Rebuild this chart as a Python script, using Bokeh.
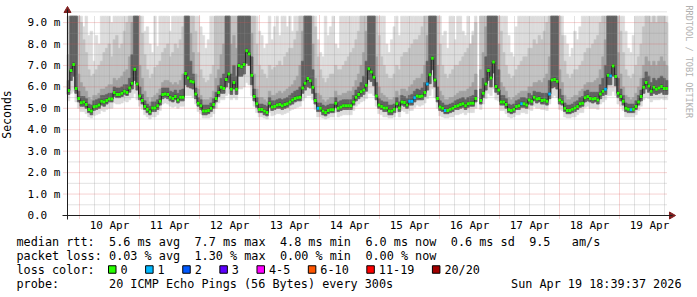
import numpy as np
from bokeh.plotting import figure
from bokeh.models import Range1d, FixedTicker, ColumnDataSource
from bokeh.embed import file_html
from bokeh.resources import INLINE
from bokeh.core.properties import value

nan = float("nan")

# ---------------- data (hourly smokeping samples, milliseconds) ----------------
sample_start_h = -4.4          # hours relative to 10 Apr 00:00
sample_step_h = 1.018

median_ms = [
 5.83,6.76,7.04,5.92,5.46,5.26,5.29,5.18,4.95,4.87, 5.07,5.10,5.15,5.33,5.29,5.37,5.44,5.44,5.74,5.64,
 5.64,5.70,5.80,5.74,5.95,6.17,6.82,6.14,5.58,5.37, 5.09,4.96,4.84,5.01,5.02,5.12,5.33,5.64,5.67,5.64,
 5.52,5.46,5.55,5.39,5.52,5.52,6.63,6.41,6.26,6.23, 5.67,5.24,5.12,4.87,4.87,4.90,5.00,5.18,
 5.46,5.74,5.98,5.92,6.35,6.60,5.89,6.20,5.89,7.00, 6.94,7.04,7.69,7.53,6.54,5.55,5.21,4.95,4.95,4.87,
 4.81,5.24,5.06,5.09,5.15,5.18,5.12,5.18,5.21,5.30, 5.39,5.46,5.49,5.52,5.95,6.17,6.39,6.29,5.98,5.37,
 5.00,5.00,4.87,4.81,4.90,4.93,4.93,5.24,5.00,5.06, 5.12,5.12,5.12,5.12,5.30,5.52,5.64,5.77,5.86,6.08, 6.85,
 6.69,6.45,5.58,5.15,5.09,5.02,5.02,4.87,4.87,4.96, 5.21,5.02,5.30,5.27,5.15,5.33,5.33,5.49,5.58,5.55,
 5.58,5.74,6.14,6.57,7.34,6.32,5.46,5.06,5.00,4.90, 4.90,4.96,5.00,5.09,5.12,5.18,5.21,5.12,5.21,5.24,
 5.24,5.46,nan,5.37,5.70,6.14,6.76,6.41,7.16,6.02, 5.86,5.30,5.30,5.18,4.93,4.90,4.96,5.09,5.12,5.21,
 5.21,5.15,5.39,5.33,5.52,5.43,5.46,5.37,5.39,5.33, 5.67,6.32,6.35,6.26,5.39,5.30,5.00,4.90,4.90,4.96,
 5.02,5.09,5.21,5.24,5.49,5.55,5.46,5.43,5.46,5.39, 5.67,5.80,5.89,6.54,6.51,6.97,6.48,5.70,5.55,5.33,
 5.00,4.96,4.93,4.96,5.09,5.30,5.55,5.98,6.20,6.04, 5.80,5.98,5.89,5.95,6.02,5.92,5.92,
]

ping_min = [
 5.35,5.7,5.8,5.3,5.0,4.85,4.85,4.75,4.6,4.55, 4.65,4.7,4.75,4.9,4.85,4.95,5.0,5.0,5.25,5.2,
 5.2,5.25,5.35,5.3,5.4,5.5,5.7,5.4,5.1,4.95, 4.7,4.6,4.5,4.6,4.6,4.7,4.9,5.2,5.25,5.2,
 5.1,5.05,5.1,5.0,5.1,5.1,5.6,5.6,5.6,5.5, 5.2,4.85,4.75,4.55,4.55,4.55,4.6,4.75,
 5.0,5.25,5.4,5.4,5.6,5.7,5.4,5.5,5.4,5.9, 5.9,6.0,6.2,6.1,5.6,5.1,4.8,4.6,4.6,4.55,
 4.5,4.8,4.65,4.7,4.75,4.75,4.7,4.75,4.8,4.9, 4.95,5.0,5.05,5.1,5.35,5.5,5.6,5.6,5.4,4.95,
 4.6,4.6,4.55,4.5,4.55,4.6,4.6,4.8,4.6,4.65, 4.7,4.7,4.7,4.7,4.9,5.1,5.2,5.3,5.35,5.45, 5.7,
 5.7,5.6,5.1,4.75,4.7,4.6,4.6,4.55,4.55,4.6, 4.8,4.6,4.9,4.85,4.75,4.9,4.9,5.05,5.15,5.1,
 5.15,5.25,5.45,5.6,5.9,5.5,5.0,4.65,4.6,4.55, 4.55,4.6,4.6,4.7,4.7,4.75,4.8,4.7,4.8,4.8,
 4.8,5.0,nan,4.95,5.2,5.45,5.7,5.6,5.9,5.4, 5.35,4.9,4.9,4.75,4.6,4.55,4.6,4.7,4.7,4.8,
 4.8,4.75,4.95,4.9,5.1,5.0,5.0,4.95,4.95,4.9, 5.2,5.5,5.6,5.5,4.95,4.9,4.6,4.55,4.55,4.6,
 4.6,4.7,4.8,4.8,5.05,5.1,5.0,5.0,5.0,4.95, 5.2,5.3,5.4,5.6,5.6,5.8,5.6,5.2,5.1,4.9,
 4.6,4.6,4.6,4.6,4.7,4.9,5.1,5.4,5.5,5.45, 5.3,5.4,5.4,5.4,5.45,5.4,5.4,
]

ping_low = [
 5.65,6.3,6.5,5.7,5.3,5.1,5.1,5.0,4.8,4.7, 4.9,4.95,5.0,5.15,5.1,5.2,5.3,5.3,5.55,5.5,
 5.5,5.55,5.65,5.6,5.75,5.9,6.3,5.85,5.4,5.2, 4.95,4.8,4.7,4.85,4.85,4.95,5.15,5.45,5.5,5.45,
 5.35,5.3,5.4,5.25,5.35,5.35,6.1,6.0,5.95,5.9, 5.45,5.1,4.95,4.7,4.7,4.75,4.85,5.0,
 5.3,5.55,5.7,5.7,6.0,6.2,5.65,5.9,5.65,6.5, 6.5,6.6,7.1,7.0,6.1,5.35,5.05,4.8,4.8,4.7,
 4.65,5.05,4.9,4.95,5.0,5.0,4.95,5.0,5.05,5.15, 5.2,5.3,5.35,5.35,5.7,5.85,6.0,5.95,5.7,5.2,
 4.85,4.85,4.7,4.65,4.75,4.8,4.8,5.05,4.85,4.9, 4.95,4.95,4.95,4.95,5.15,5.35,5.45,5.55,5.65,5.8, 6.35,
 6.25,6.05,5.4,5.0,4.95,4.85,4.85,4.7,4.7,4.8, 5.05,4.85,5.15,5.1,5.0,5.15,5.15,5.3,5.4,5.4,
 5.4,5.55,5.85,6.15,6.8,6.0,5.3,4.9,4.85,4.75, 4.75,4.8,4.85,4.95,4.95,5.0,5.05,4.95,5.05,5.1,
 5.1,5.3,nan,5.2,5.5,5.85,6.3,6.0,6.65,5.75, 5.65,5.15,5.15,5.0,4.8,4.75,4.8,4.95,4.95,5.05,
 5.05,5.0,5.2,5.15,5.35,5.25,5.3,5.2,5.2,5.15, 5.45,5.95,6.0,5.9,5.2,5.15,4.85,4.75,4.75,4.8,
 4.85,4.95,5.05,5.1,5.3,5.35,5.3,5.25,5.3,5.2, 5.45,5.6,5.65,6.1,6.1,6.5,6.05,5.5,5.35,5.15,
 4.85,4.8,4.8,4.8,4.95,5.15,5.35,5.7,5.9,5.75, 5.6,5.7,5.65,5.7,5.75,5.65,5.65,
]

ping_mid = [
 6.3,9.3,9.3,9.3,5.8,5.55,5.55,5.45,5.2,5.15, 5.35,5.4,5.45,5.6,5.6,5.65,5.7,5.7,6.0,5.95,
 5.95,6.0,6.1,6.1,6.4,7.5,9.3,9.3,6.0,5.65, 5.35,5.2,5.1,5.3,5.3,5.4,5.6,5.95,5.95,5.95,
 5.8,5.75,5.85,5.7,5.85,5.9,9.3,9.3,7.2,6.6, 5.95,5.5,5.4,5.15,5.15,5.15,5.25,5.45,
 5.75,6.05,6.4,6.6,9.3,9.3,6.6,7.0,6.5,9.3, 9.3,9.3,9.3,9.3,7.4,5.9,5.5,5.2,5.2,5.15,
 5.1,5.5,5.35,5.35,5.4,5.45,5.4,5.45,5.5,5.6, 5.7,5.8,5.85,6.0,7.2,9.3,9.3,9.3,6.8,5.7,
 5.25,5.25,5.15,5.1,5.15,5.2,5.2,5.5,5.3,5.35, 5.4,5.4,5.4,5.4,5.6,5.85,6.0,6.2,6.5,7.2, 9.3,
 9.3,9.3,6.2,5.45,5.35,5.3,5.3,5.15,5.15,5.2, 5.5,5.3,5.6,5.55,5.45,5.6,5.65,5.8,5.9,5.85,
 5.95,6.2,7.2,9.3,9.3,9.3,6.0,5.35,5.25,5.15, 5.15,5.2,5.25,5.35,5.4,5.45,5.5,5.4,5.5,5.55,
 5.6,5.85,nan,5.9,6.4,7.4,9.3,9.3,9.3,9.3, 6.8,5.6,5.6,5.45,5.2,5.15,5.2,5.35,5.4,5.5,
 5.5,5.45,5.7,5.6,5.8,5.75,5.75,5.7,5.7,5.7, 6.3,9.3,9.3,9.3,5.9,5.6,5.25,5.15,5.15,5.2,
 5.3,5.35,5.5,5.55,5.8,5.85,5.75,5.75,5.75,5.75, 6.1,6.4,7.0,9.3,9.3,9.3,9.3,6.4,5.9,5.6,
 5.25,5.2,5.2,5.2,5.35,5.6,5.85,6.4,6.7,6.5, 6.2,6.4,6.3,6.4,6.5,6.4,6.3,
]

ping_up = [
 7.5,9.3,9.3,9.3,6.6,6.2,6.0,5.8,5.5,5.4, 5.6,5.6,5.7,5.9,5.9,6.0,6.1,6.1,6.4,6.3,
 6.4,6.5,6.7,6.8,7.4,9.0,9.3,9.3,7.0,6.4, 5.8,5.5,5.3,5.5,5.6,5.7,5.9,6.2,6.3,6.3,
 6.2,6.1,6.2,6.1,6.3,6.6,9.3,9.3,8.5,7.6, 6.6,5.9,5.6,5.4,5.4,5.4,5.5,5.8,
 6.4,6.8,7.5,8.0,9.3,9.3,8.0,8.4,7.8,9.3, 9.3,9.3,9.3,9.3,8.5,6.6,5.9,5.5,5.5,5.4,
 5.3,5.8,5.6,5.6,5.7,5.8,5.7,5.8,5.9,6.0, 6.1,6.3,6.5,7.0,8.6,9.3,9.3,9.3,8.0,6.4,
 5.7,5.6,5.4,5.3,5.4,5.5,5.5,5.8,5.6,5.6, 5.7,5.7,5.8,5.8,6.0,6.3,6.6,7.0,7.6,8.6, 9.3,
 9.3,9.3,7.4,6.0,5.7,5.6,5.5,5.4,5.4,5.5, 5.8,5.6,5.9,5.9,5.8,6.0,6.1,6.3,6.4,6.4,
 6.6,7.0,8.4,9.3,9.3,9.3,7.0,5.8,5.6,5.4, 5.4,5.5,5.5,5.6,5.7,5.8,5.8,5.8,5.9,6.0,
 6.2,6.6,nan,6.8,7.6,8.8,9.3,9.3,9.3,9.3, 8.0,6.2,6.0,5.8,5.5,5.4,5.5,5.6,5.7,5.8,
 5.8,5.8,6.0,6.0,6.2,6.2,6.3,6.2,6.4,6.6, 7.4,9.3,9.3,9.3,6.8,6.2,5.6,5.4,5.4,5.5,
 5.6,5.6,5.8,5.9,6.1,6.2,6.2,6.2,6.3,6.4, 6.8,7.4,8.2,9.3,9.3,9.3,9.3,7.6,6.6,6.0,
 5.6,5.5,5.4,5.5,5.7,6.0,6.4,7.0,7.4,7.2, 7.0,7.2,7.0,7.2,7.4,7.2,7.0,
]

ping_high = [
 9.3,9.3,9.3,9.3,9.3,9.0,8.2,7.6,6.8,6.5, 6.6,6.8,7.0,7.2,7.6,7.8,8.0,7.4,8.2,8.4,
 7.8,8.0,8.6,9.0,9.3,9.3,9.3,9.3,9.3,8.5, 7.5,6.8,6.4,6.6,6.9,7.0,7.2,7.6,7.8,8.0,
 7.4,7.6,8.0,7.8,8.2,8.8,9.3,9.3,9.3,9.3, 8.6,7.6,6.8,6.4,6.2,6.3,6.6,7.0,
 9.3,9.3,9.3,9.3,9.3,9.3,9.3,9.3,9.3,9.3, 9.3,9.3,9.3,9.3,9.3,9.3,8.0,7.0,6.8,6.6,
 6.4,7.0,6.8,6.9,7.0,7.2,7.0,7.4,7.6,7.8, 7.8,8.2,8.6,9.3,9.3,9.3,9.3,9.3,9.3,8.8,
 7.4,6.8,6.4,6.2,6.4,6.6,6.6,7.0,6.8,6.8, 7.0,7.2,7.4,7.6,7.8,8.2,8.6,9.3,9.3,9.3, 9.3,
 9.3,9.3,9.3,8.4,7.4,7.0,6.6,6.4,6.4,6.6, 7.0,6.8,7.4,7.6,7.6,7.8,8.0,8.2,8.2,8.4,
 8.8,9.3,9.3,9.3,9.3,9.3,9.3,8.0,7.0,6.6, 6.4,6.6,6.8,7.0,7.0,7.2,7.4,7.6,7.8,8.0,
 8.4,9.0,nan,9.3,9.3,9.3,9.3,9.3,9.3,9.3, 9.3,8.6,7.6,7.0,6.6,6.4,6.5,6.8,7.0,7.2,
 7.4,7.4,7.8,7.8,8.2,8.0,8.4,8.2,8.6,9.0, 9.3,9.3,9.3,9.3,9.3,8.4,7.2,6.6,6.4,6.6,
 6.8,6.8,7.0,7.2,7.6,7.8,7.8,8.0,8.2,8.4, 9.0,9.3,9.3,9.3,9.3,9.3,9.3,9.3,8.6,7.6,
 6.8,6.5,6.4,6.6,7.0,7.4,8.0,8.8,9.3,9.3, 9.0,9.3,9.0,9.3,9.3,9.3,9.0,
]

ping_max = [
 9.3,9.3,9.3,9.3,9.3,9.3,8.8,9.3,8.4,8.6, 7.2,8.4,8.0,9.3,9.3,9.3,9.3,9.0,9.3,9.3,
 9.3,9.3,9.3,9.3,9.3,9.3,9.3,9.3,9.3,9.3, 8.6,8.8,8.0,7.6,9.3,7.9,9.3,9.3,9.3,9.3,
 8.6,9.3,9.3,9.3,9.3,9.3,9.3,9.3,9.3,9.3, 9.3,9.3,8.8,8.4,7.8,8.2,9.3,9.3,
 9.3,9.3,9.3,9.3,9.3,9.3,9.3,9.3,9.3,9.3, 9.3,9.3,9.3,9.3,9.3,9.3,9.3,8.6,8.4,7.8,
 8.0,9.3,8.2,8.8,9.3,8.4,9.3,9.3,8.8,9.3, 8.6,9.3,9.3,9.3,9.3,9.3,9.3,9.3,9.3,9.3,
 8.2,7.6,7.4,9.3,8.4,8.8,9.3,8.0,7.8,9.3, 9.3,9.3,9.3,9.3,9.3,9.3,9.3,9.3,9.3,9.3, 9.3,
 9.3,9.3,9.3,9.3,9.3,9.3,8.0,7.6,8.2,8.8, 9.3,8.4,9.3,9.3,9.3,9.3,9.3,9.3,9.3,9.3,
 9.3,9.3,9.3,9.3,9.3,9.3,9.3,9.3,8.4,8.6, 7.8,9.3,9.3,8.2,9.3,9.3,8.6,8.4,9.3,8.0,
 8.6,9.3,nan,9.3,9.3,9.3,9.3,9.3,9.3,9.3, 9.3,9.3,9.3,9.3,8.4,7.6,7.4,8.8,9.3,9.3,
 9.3,9.3,9.3,9.3,9.3,9.3,9.3,9.3,9.3,9.3, 9.3,9.3,9.3,9.3,9.3,9.3,8.4,8.0,7.4,7.8,
 8.6,8.2,8.8,9.3,9.3,9.3,9.3,9.3,9.3,9.3, 9.3,9.3,9.3,9.3,9.3,9.3,9.3,9.3,9.3,9.3,
 8.6,7.8,7.6,8.4,9.3,9.3,9.3,9.3,9.3,9.3, 9.3,9.3,9.3,9.3,9.3,9.3,9.3,
]

# pings lost (out of 20) per sample
loss_count = [
 0,0,0,0,0,0,0,0,0,0, 0,0,0,0,0,0,0,0,0,0, 0,0,0,0,0,0,0,0,0,0, 0,0,0,0,0,0,0,0,0,0,
 0,0,0,0,0,0,0,0,0,0, 0,0,0,0,0,0,0,0,
 0,0,0,0,0,0,0,0,0,0, 0,0,0,0,0,0,0,0,0,0, 0,0,0,0,0,0,0,0,0,0, 0,0,0,0,0,0,0,0,0,0,
 1,0,0,0,0,0,0,0,0,0, 0,0,0,0,0,0,0,0,0,0, 0,
 0,0,0,0,0,0,0,0,0,0, 0,0,0,0,0,1,1,1,0,0, 0,0,1,0,0,0,0,0,0,1, 0,0,0,0,0,0,0,0,0,0,
 0,0,0,0,0,0,0,0,0,0, 0,0,0,0,0,0,0,0,0,1,
 0,0,0,0,0,0,0,0,0,0, 1,0,0,0,0,0,0,0,0,0, 0,0,0,0,0,0,0,0,0,0, 0,0,1,0,1,0,0,0,0,0,
 0,0,1,0,0,0,0,0,0,0, 0,0,0,0,0,0,0,
]

loss_labels = ["0", "1", "2", "3", "4-5", "6-10", "11-19", "20/20"]
loss_colors = ["#26ff00", "#00b8ff", "#0059ff", "#5e00ff", "#ff00ff", "#ff5500", "#ff0000", "#a10000"]

x_tick_labels = ["10 Apr", "11 Apr", "12 Apr", "13 Apr", "14 Apr",
                 "15 Apr", "16 Apr", "17 Apr", "18 Apr", "19 Apr"]
y_tick_values = [0, 1, 2, 3, 4, 5, 6, 7, 8, 9]
y_tick_labels = ["0.0\u00a0\u00a0", "1.0 m", "2.0 m", "3.0 m", "4.0 m",
                 "5.0 m", "6.0 m", "7.0 m", "8.0 m", "9.0 m"]

legend_rows = [
    [(0, "median rtt:"), (13, "5.6 ms avg"), (25, "7.7 ms max"), (37, "4.8 ms min"),
     (49, "6.0 ms now"), (61, "0.6 ms sd"), (72, "9.5"), (78, "am/s")],
    [(0, "packet loss:"), (13, "0.03 % avg"), (25, "1.30 % max"), (37, "0.00 % min"),
     (49, "0.00 % now")],
    [(0, "loss color:")],
    [(0, "probe:"), (13, "20 ICMP Echo Pings (56 Bytes) every 300s")],
]
timestamp_text = "Sun Apr 19 18:39:37 2026"
watermark_text = "RRDTOOL / TOBI OETIKER"

# ---------------- geometry: the frame covers the whole canvas ----------------
W, H = 697, 297
FL, FT, FW, FH = 67, 15, 600, 200          # graph area inside the canvas (pixels)
X0, X1 = -4.8, 235.2                        # graph time span (hours from 10 Apr 00:00)
Y0, Y1 = 0.0, 9.33                          # graph value span (ms)
PXH = FW / (X1 - X0)
PXM = FH / (Y1 - Y0)

def dx(px):  # canvas pixel -> x data (only for placing chrome / legend)
    return X0 + (px - FL) / PXH

def dy(py):  # canvas pixel -> y data
    return Y0 + (FT + FH - py) / PXM

FONT = "DejaVu Sans Mono"
p = figure(width=W, height=H, x_range=Range1d(dx(0), dx(W)), y_range=Range1d(dy(H), dy(0)),
           output_backend="svg", toolbar_location=None,
           min_border_left=0, min_border_right=0, min_border_top=0, min_border_bottom=0,
           background_fill_color="white", border_fill_color="white", outline_line_color=None)
p.xgrid.visible = False
p.ygrid.visible = False

N = len(median_ms)
t = np.array([sample_start_h + i * sample_step_h for i in range(N)])
lc = [loss_colors[c] if c < 4 else loss_colors[4] for c in loss_count]
src = ColumnDataSource(dict(
    t=t, left=t - sample_step_h / 2, right=t + sample_step_h / 2,
    med=np.array(median_ms, dtype=float),
    pmin=np.array(ping_min, dtype=float), plow=np.array(ping_low, dtype=float),
    pmid=np.array(ping_mid, dtype=float),
    pup=np.array(ping_up, dtype=float), phigh=np.array(ping_high, dtype=float),
    pmax=np.array(ping_max, dtype=float), lc=lc,
))

# smoke
for bot, top, col in [("pmin", "pmax", "#dcdcdc"), ("plow", "phigh", "#c2c2c2"),
                      ("plow", "pup", "#a2a2a2"), ("plow", "pmid", "#626262")]:
    p.quad(left="left", right="right", bottom=bot, top=top, source=src,
           fill_color=col, line_color=col, line_width=0.6)
p.rect(x="t", y="med", width=sample_step_h, height=4, height_units="screen", source=src,
       fill_color="#404040", line_color=None)

# grid (dotted, drawn over the smoke like rrdtool)
day_ticks = [24 * k for k in range(10)]
noon_ticks = [12 + 24 * k for k in range(10)]
six_h = [h for h in range(6, 235, 6) if h % 24]
y_minor = [v + 0.5 for v in y_tick_values]
GRID, MGRID = "#8f8f8f", "#de4f4f"
p.segment(x0=six_h, x1=six_h, y0=[Y0] * len(six_h), y1=[Y1] * len(six_h),
          line_color=GRID, line_alpha=0.5, line_dash="1 1", line_width=1)
p.segment(x0=[X0] * len(y_minor), x1=[X1] * len(y_minor), y0=y_minor, y1=y_minor,
          line_color=GRID, line_alpha=0.5, line_dash="1 1", line_width=1)
p.segment(x0=day_ticks, x1=day_ticks, y0=[dy(FT + FH + 3)] * len(day_ticks), y1=[Y1] * len(day_ticks),
          line_color=MGRID, line_alpha=0.5, line_dash="1 1", line_width=1)
p.segment(x0=[dx(FL - 4)] * 9, x1=[X1] * 9, y0=y_tick_values[1:], y1=y_tick_values[1:],
          line_color=MGRID, line_alpha=0.5, line_dash="1 1", line_width=1)

# median line and loss-coloured marks
p.step(x="t", y="med", mode="center", source=src, line_color="#202020", line_width=1)
p.rect(x="t", y="med", width=sample_step_h, height=3, height_units="screen", source=src,
       fill_color="lc", line_color=None)

# axes, fixed at the graph's edges
xa = p.xaxis[0]
xa.fixed_location = Y0
xa.bounds = (dx(FL - 5), dx(FL + FW + 5))
xa.ticker = FixedTicker(ticks=noon_ticks)
xa.major_label_overrides = {tk: lab for tk, lab in zip(noon_ticks, x_tick_labels)}
xa.major_tick_line_color = None
xa.minor_tick_line_color = None
xa.major_tick_out = 0
xa.major_tick_in = 0
xa.axis_line_color = "#1f1f1f"
xa.major_label_standoff = 3
xa.major_label_text_font = FONT
xa.major_label_text_font_size = "11px"
xa.major_label_text_color = "black"

ya = p.yaxis[0]
ya.fixed_location = X0
ya.bounds = (dy(FT + FH + 4), dy(FT - 6))
ya.ticker = FixedTicker(ticks=y_tick_values)
ya.major_label_overrides = {tk: lab for tk, lab in zip(y_tick_values, y_tick_labels)}
ya.major_tick_line_color = None
ya.minor_tick_line_color = None
ya.major_tick_out = 0
ya.major_tick_in = 0
ya.axis_line_color = "#1f1f1f"
ya.major_label_standoff = 7
ya.major_label_text_font = FONT
ya.major_label_text_font_size = "11px"
ya.major_label_text_color = "black"
ya.axis_label = "Seconds"
ya.axis_label_standoff = 10
ya.axis_label_text_font = FONT
ya.axis_label_text_font_size = "11.5px"
ya.axis_label_text_font_style = "normal"
ya.axis_label_text_color = "black"

# axis arrows
ARROW = "#801f1f"
p.scatter(x=[dx(FL + FW + 4)], y=[Y0], marker="triangle", size=7, angle=-np.pi / 2,
          fill_color=ARROW, line_color=ARROW)
p.scatter(x=[X0], y=[dy(FT - 5)], marker="triangle", size=7,
          fill_color=ARROW, line_color=ARROW)

# watermark
p.text(x=[dx(688)], y=[dy(5)], text=[watermark_text], angle=-np.pi / 2,
       text_font=value(FONT), text_font_size="8.5px", text_color="#b0b0b0",
       text_align="left", text_baseline="middle")

# ---------------- legend (below the graph) ----------------
ADV = 7.12
LX = 16
LFS = "11.8px"
row_y = [241, 255, 269, 283]
tx, ty, tt = [], [], []
for r, row in enumerate(legend_rows):
    for col, txt in row:
        tx.append(dx(LX + col * ADV))
        ty.append(dy(row_y[r]))
        tt.append(txt)
p.text(x=tx, y=ty, text=tt, text_font=value(FONT), text_font_size=LFS,
       text_baseline="middle", text_align="left", text_color="black")
p.text(x=[dx(681)], y=[dy(row_y[3])], text=[timestamp_text], text_font=value(FONT),
       text_font_size=LFS, text_baseline="middle", text_align="right", text_color="black")

bx, lx = [], []
cur = 108.0
for lab in loss_labels:
    bx.append(dx(cur + 3.75))
    lx.append(dx(cur + 12))
    cur += ADV * len(lab) + 30
p.rect(x=bx, y=[dy(row_y[2])] * len(bx), width=7.5, height=7.5,
       width_units="screen", height_units="screen",
       fill_color=loss_colors, line_color="black", line_width=1)
p.text(x=lx, y=[dy(row_y[2])] * len(lx), text=loss_labels, text_font=value(FONT),
       text_font_size=LFS, text_baseline="middle", text_align="left", text_color="black")

open("out.html", "w").write(file_html(p, INLINE))
